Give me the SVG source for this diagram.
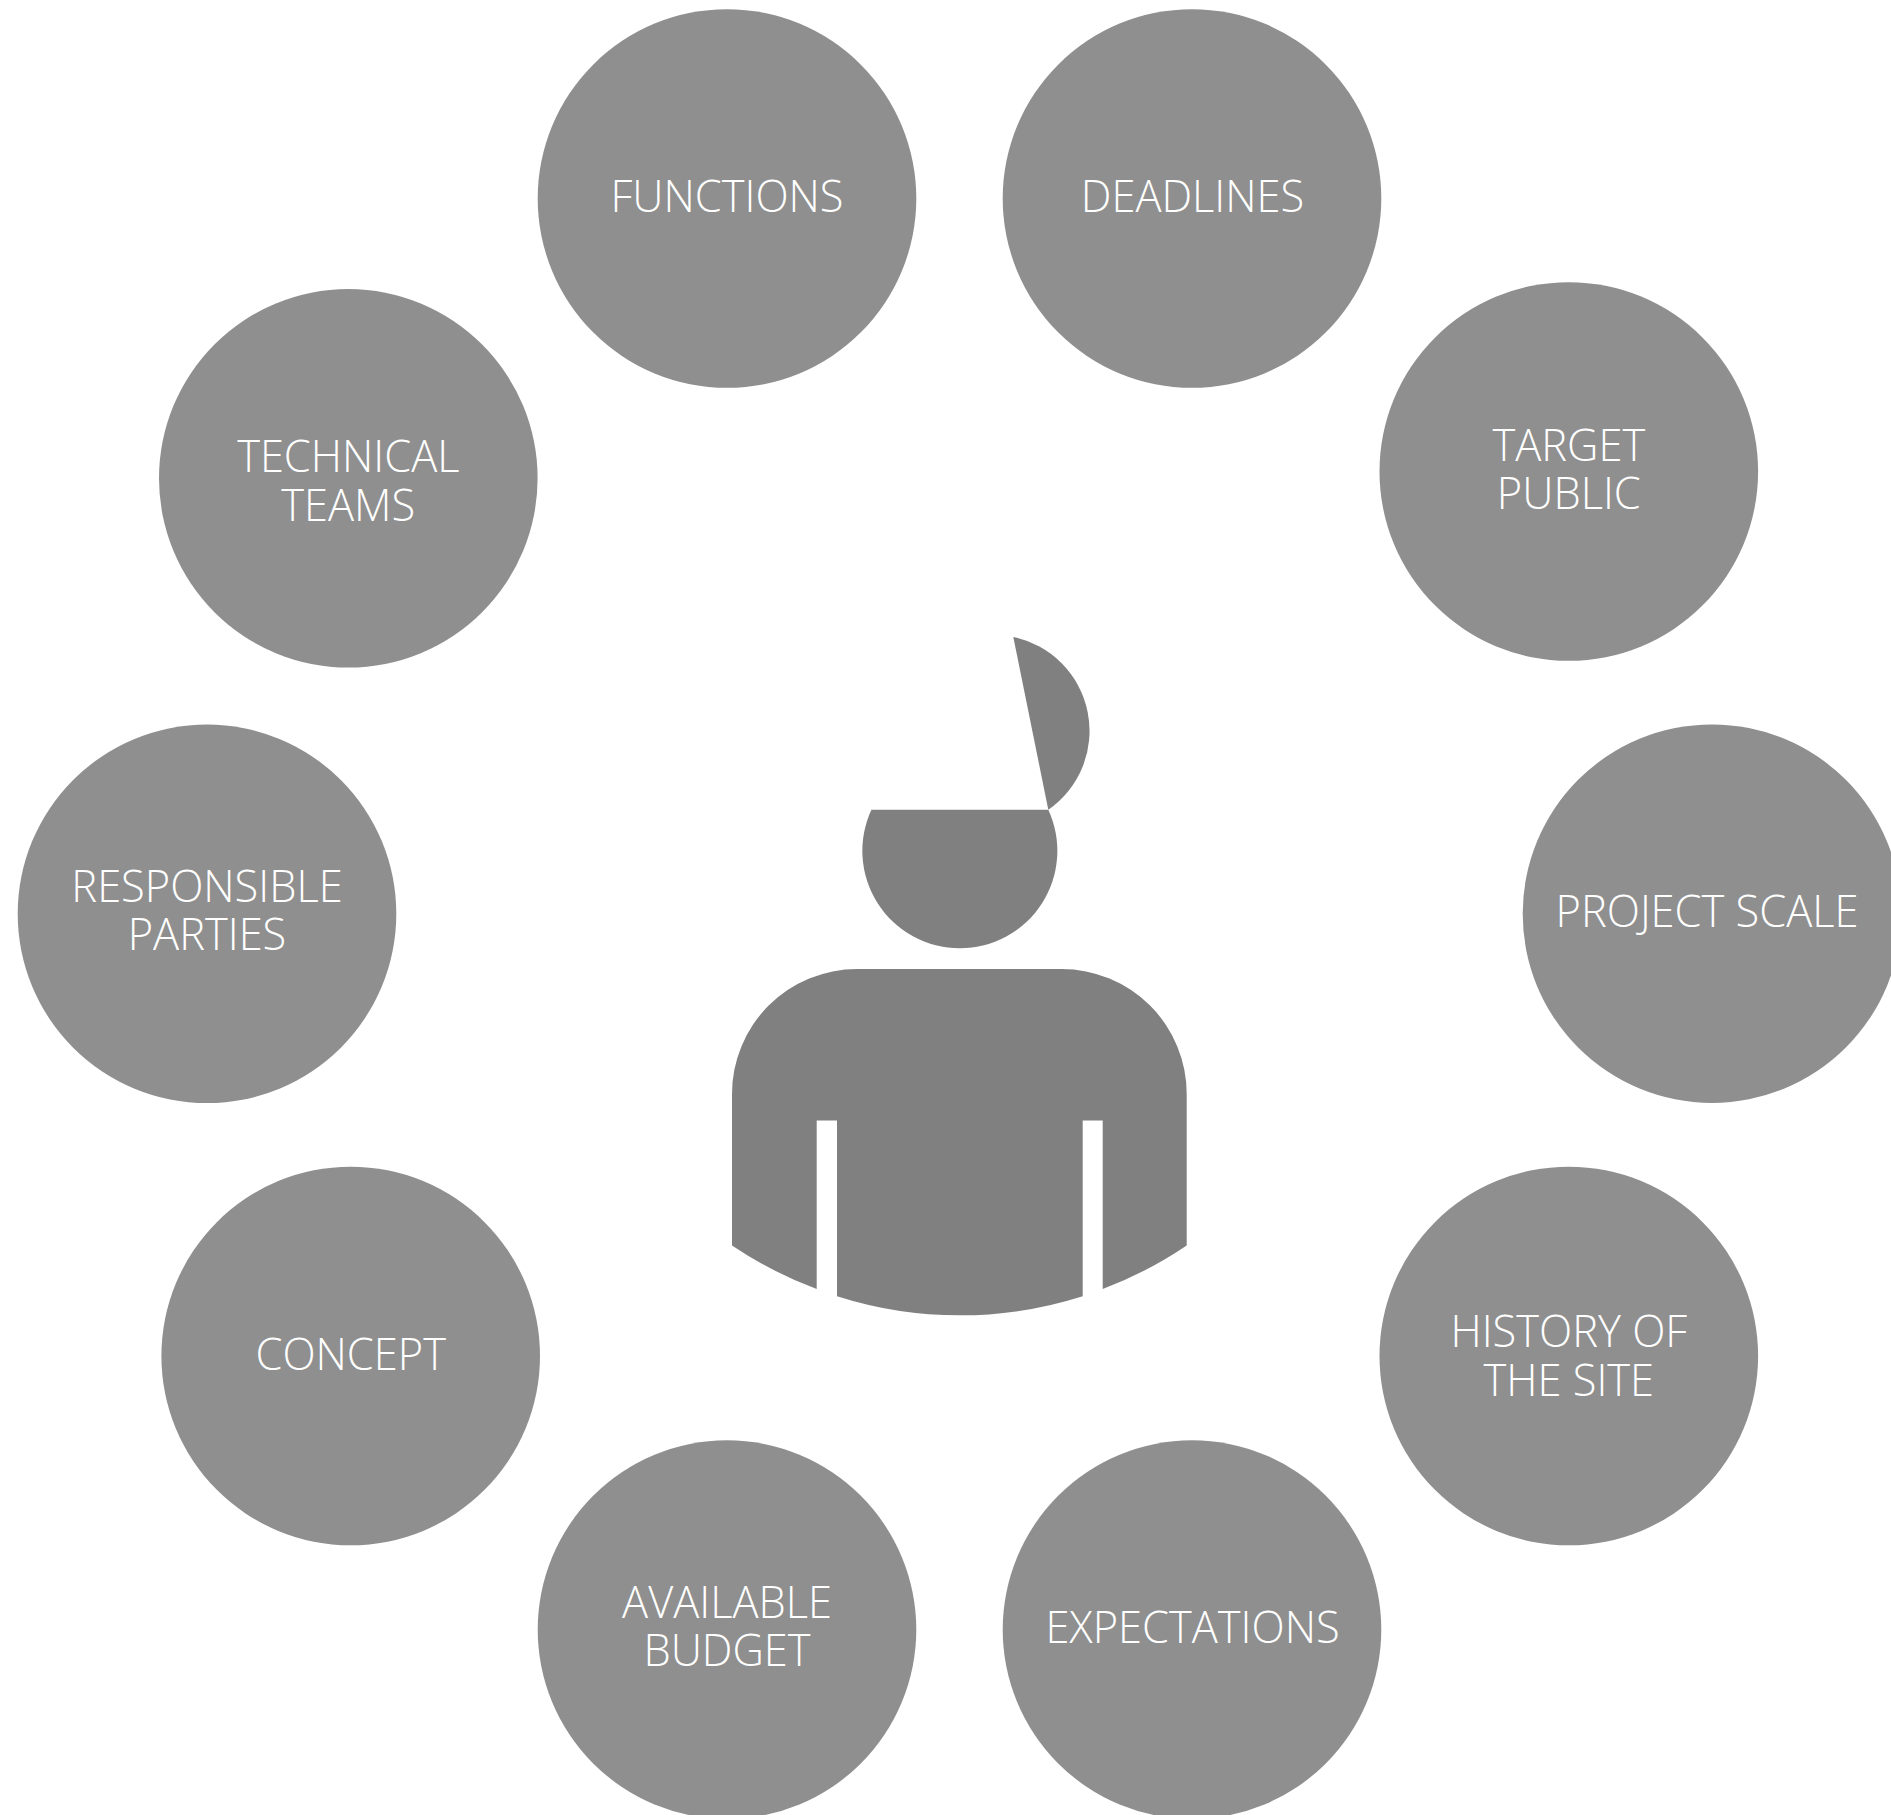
<svg xmlns="http://www.w3.org/2000/svg" width="1891" height="1815" viewBox="0 0 1891 1815">
<style>
.c{fill:#8f8f8f}
.f{fill:#808080}
text{font-family:"Open Sans","Noto Sans","Liberation Sans",sans-serif;font-weight:300;font-size:43.4px;fill:#fff;text-anchor:middle}
</style>
<rect width="1891" height="1815" fill="#fff"/>
<g id="person">
<path class="f" d="M1013.3 637A96 96 0 0 1 1048.3 809.8Z"/>
<path class="f" d="M871.4 809.8H1048.3A97.5 97.5 0 1 1 871.4 809.8Z"/>
<path class="f" d="M732 1245.5V1094A125 125 0 0 1 857 969H1061.7A125 125 0 0 1 1186.7 1094V1245.5A404 404 0 0 1 1102.7 1289V1120.5H1082.7V1296.2A404 404 0 0 1 837 1296.2V1120.5H816.7V1289A404 404 0 0 1 732 1245.5Z"/>
</g>
<g id="functions"><circle class="c" cx="727" cy="198.5" r="189.3"/><text x="727" y="212">FUNCTIONS</text></g>
<g id="deadlines"><circle class="c" cx="1192" cy="198.5" r="189.3"/><text x="1192.5" y="212">DEADLINES</text></g>
<g id="target-public"><circle class="c" cx="1568.8" cy="471.5" r="189.3"/><text x="1568.8" y="460.5">TARGET</text><text x="1568.8" y="508.5">PUBLIC</text></g>
<g id="project-scale"><circle class="c" cx="1712" cy="913.7" r="189.3"/><text x="1707" y="926.5">PROJECT SCALE</text></g>
<g id="history"><circle class="c" cx="1568.8" cy="1356" r="189.3"/><text x="1568.8" y="1347">HISTORY OF</text><text x="1568.8" y="1395.5">THE SITE</text></g>
<g id="expectations"><circle class="c" cx="1192" cy="1629.6" r="189.3"/><text x="1192.5" y="1643.3">EXPECTATIONS</text></g>
<g id="available-budget"><circle class="c" cx="727" cy="1629.6" r="189.3"/><text x="727" y="1617.5">AVAILABLE</text><text x="727" y="1665.5">BUDGET</text></g>
<g id="concept"><circle class="c" cx="350.7" cy="1356" r="189.3"/><text x="350.7" y="1370">CONCEPT</text></g>
<g id="responsible-parties"><circle class="c" cx="207" cy="913.8" r="189.3"/><text x="207" y="902">RESPONSIBLE</text><text x="207" y="950.3">PARTIES</text></g>
<g id="technical-teams"><circle class="c" cx="348.3" cy="478.3" r="189.3"/><text x="348.3" y="472">TECHNICAL</text><text x="348.3" y="520.5">TEAMS</text></g>
<g id="connectors"></g>
</svg>
